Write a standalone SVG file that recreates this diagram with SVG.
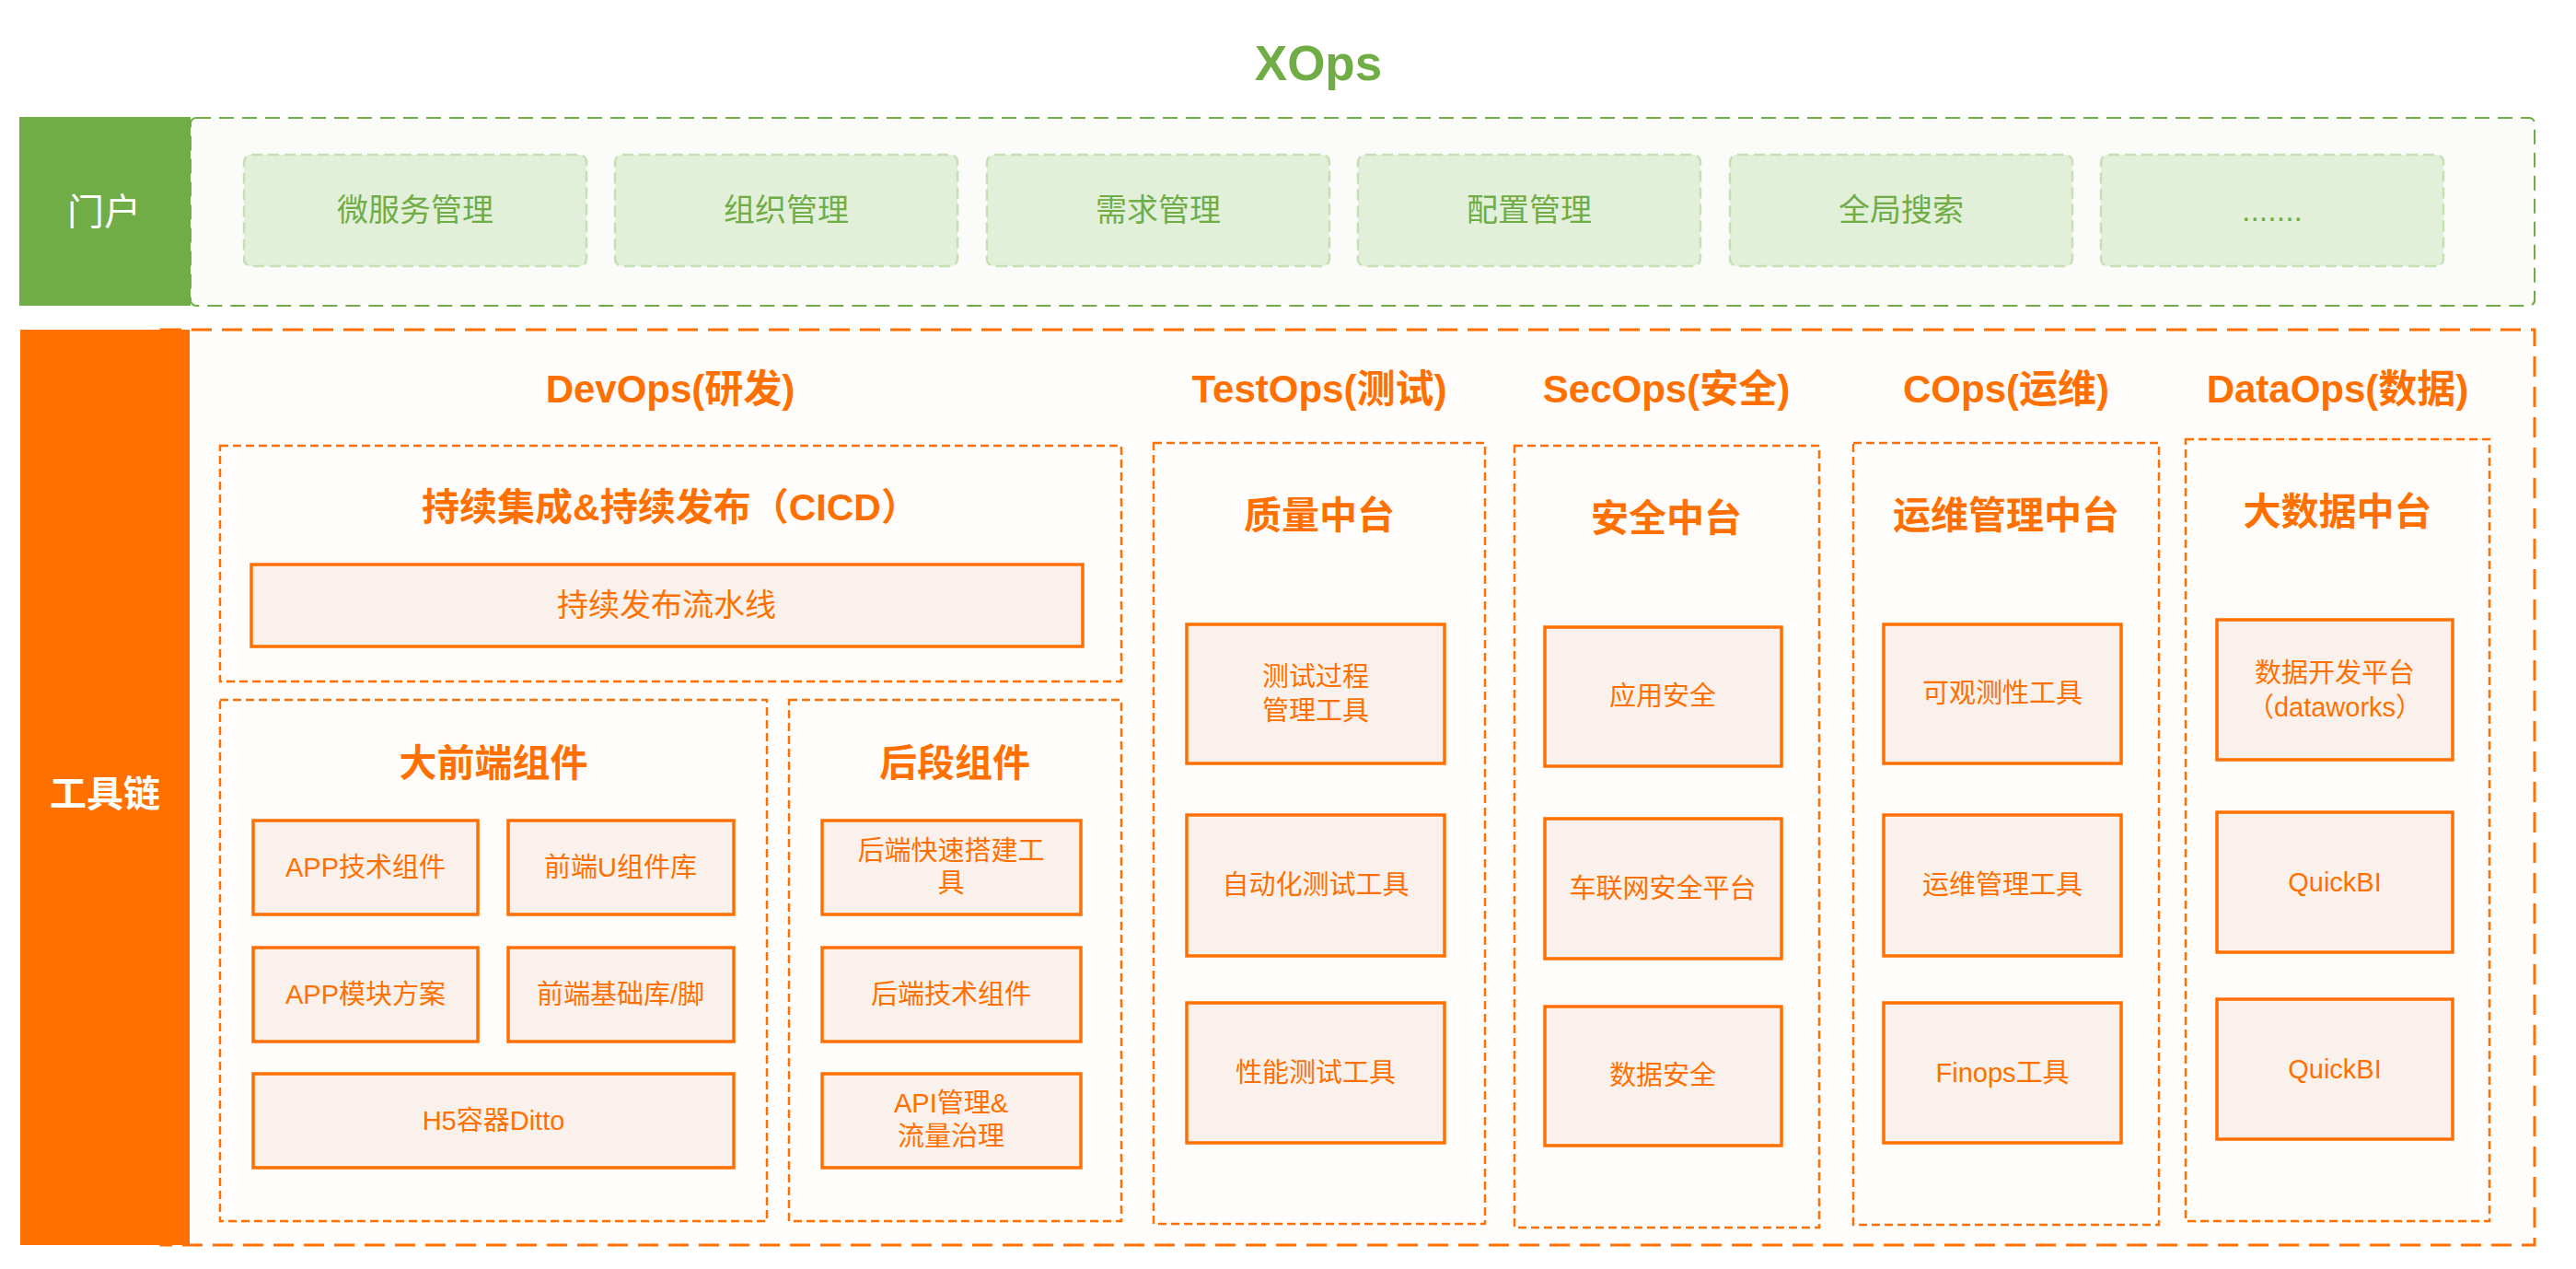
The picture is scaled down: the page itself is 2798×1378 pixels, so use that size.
<svg xmlns="http://www.w3.org/2000/svg" width="2798" height="1378" viewBox="0 0 2798 1378">
<style>
text{font-family:"Liberation Sans","Noto Sans CJK SC",sans-serif;text-anchor:middle;dominant-baseline:central}
.gtxt{fill:#70AD47;font-size:34px}
.wtxt{fill:#FFFFFF;font-size:40px}
.sec{fill:#FF7000;font-size:42px;font-weight:bold;dominant-baseline:alphabetic}
.sub{fill:#FF7000;font-size:41px;font-weight:bold}
.itxt{fill:#FF7000;font-size:29px}
.gbox{fill:#E2EFD9;stroke:#C5E0B3;stroke-width:2.5;stroke-dasharray:12 6}
.obox{fill:#FFFDFC;stroke:#FF7000;stroke-width:2.5;stroke-dasharray:9 5}
.sbox{fill:#FBF1EC;stroke:#FF7000;stroke-width:3.5}
</style>
<rect width="2798" height="1378" fill="#FFFFFF"/>
<text x="1432" y="68" style="fill:#70AD47;font-size:53px;font-weight:bold">XOps</text>

<g id="portal">
<rect x="207" y="128" width="2546" height="204" rx="6" fill="#FBFBF9" stroke="#70AD47" stroke-width="2" stroke-dasharray="16 9"/>
<rect x="21" y="127" width="186" height="205" fill="#70AD47"/>
<text x="113" y="230" class="wtxt">门户</text>
</g>
<g id="p1"><rect x="265" y="168" width="372" height="121" rx="8" class="gbox"/><text x="451" y="228" class="gtxt">微服务管理</text></g>
<g id="p2"><rect x="668" y="168" width="372" height="121" rx="8" class="gbox"/><text x="854" y="228" class="gtxt">组织管理</text></g>
<g id="p3"><rect x="1072" y="168" width="372" height="121" rx="8" class="gbox"/><text x="1258" y="228" class="gtxt">需求管理</text></g>
<g id="p4"><rect x="1475" y="168" width="372" height="121" rx="8" class="gbox"/><text x="1661" y="228" class="gtxt">配置管理</text></g>
<g id="p5"><rect x="1879" y="168" width="372" height="121" rx="8" class="gbox"/><text x="2065" y="228" class="gtxt">全局搜索</text></g>
<g id="p6"><rect x="2282" y="168" width="372" height="121" rx="8" class="gbox"/><text x="2468" y="228" class="gtxt">.......</text></g>

<g id="toolchain">
<rect x="175" y="358" width="2578" height="994" fill="#FFFDFC" stroke="#FF7000" stroke-width="3" stroke-dasharray="22 11"/>
<rect x="22" y="358" width="184" height="994" fill="#FF7000"/>
<text x="114" y="862" class="wtxt" style="font-weight:bold">工具链</text>
</g>

<g id="titles">
<text x="728" y="437" class="sec">DevOps(研发)</text>
<text x="1433" y="437" class="sec">TestOps(测试)</text>
<text x="1810" y="437" class="sec">SecOps(安全)</text>
<text x="2179" y="437" class="sec">COps(运维)</text>
<text x="2539" y="437" class="sec">DataOps(数据)</text>
</g>

<g id="cicd"><rect x="239" y="484" width="979" height="256" class="obox"/><text x="728" y="551" class="sub">持续集成&amp;持续发布（CICD）</text></g>
<g id="pipeline"><rect x="273" y="613" width="903" height="89" class="sbox"/><text x="724" y="657" class="itxt" style="font-size:34px">持续发布流水线</text></g>

<g id="frontend"><rect x="239" y="760" width="594" height="566" class="obox"/><text x="536" y="829" class="sub">大前端组件</text></g>
<g id="f1"><rect x="275" y="891" width="244" height="102" class="sbox"/><text x="397" y="942" class="itxt">APP技术组件</text></g>
<g id="f2"><rect x="552" y="891" width="245" height="102" class="sbox"/><text x="674" y="942" class="itxt">前端U组件库</text></g>
<g id="f3"><rect x="275" y="1029" width="244" height="102" class="sbox"/><text x="397" y="1080" class="itxt">APP模块方案</text></g>
<g id="f4"><rect x="552" y="1029" width="245" height="102" class="sbox"/><text x="674" y="1080" class="itxt">前端基础库/脚</text></g>
<g id="f5"><rect x="275" y="1166" width="522" height="102" class="sbox"/><text x="536" y="1217" class="itxt">H5容器Ditto</text></g>

<g id="backend"><rect x="857" y="760" width="361" height="566" class="obox"/><text x="1037" y="829" class="sub">后段组件</text></g>
<g id="b1"><rect x="893" y="891" width="281" height="102" class="sbox"/><text x="1033" y="924" class="itxt">后端快速搭建工</text><text x="1033" y="959" class="itxt">具</text></g>
<g id="b2"><rect x="893" y="1029" width="281" height="102" class="sbox"/><text x="1033" y="1080" class="itxt">后端技术组件</text></g>
<g id="b3"><rect x="893" y="1166" width="281" height="102" class="sbox"/><text x="1033" y="1198" class="itxt">API管理&amp;</text><text x="1033" y="1234" class="itxt">流量治理</text></g>

<g id="quality"><rect x="1253" y="481" width="360" height="848" class="obox"/><text x="1433" y="560" class="sub">质量中台</text></g>
<g id="q1"><rect x="1289" y="678" width="280" height="151" class="sbox"/><text x="1429" y="735" class="itxt">测试过程</text><text x="1429" y="772" class="itxt">管理工具</text></g>
<g id="q2"><rect x="1289" y="885" width="280" height="153" class="sbox"/><text x="1429" y="961" class="itxt">自动化测试工具</text></g>
<g id="q3"><rect x="1289" y="1089" width="280" height="152" class="sbox"/><text x="1429" y="1165" class="itxt">性能测试工具</text></g>

<g id="security"><rect x="1645" y="484" width="331" height="849" class="obox"/><text x="1810" y="563" class="sub">安全中台</text></g>
<g id="s1"><rect x="1678" y="681" width="257" height="151" class="sbox"/><text x="1806" y="756" class="itxt">应用安全</text></g>
<g id="s2"><rect x="1678" y="889" width="257" height="152" class="sbox"/><text x="1806" y="965" class="itxt">车联网安全平台</text></g>
<g id="s3"><rect x="1678" y="1093" width="257" height="151" class="sbox"/><text x="1806" y="1168" class="itxt">数据安全</text></g>

<g id="ops"><rect x="2013" y="481" width="332" height="849" class="obox"/><text x="2179" y="560" class="sub">运维管理中台</text></g>
<g id="o1"><rect x="2046" y="678" width="258" height="151" class="sbox"/><text x="2175" y="753" class="itxt">可观测性工具</text></g>
<g id="o2"><rect x="2046" y="885" width="258" height="153" class="sbox"/><text x="2175" y="961" class="itxt">运维管理工具</text></g>
<g id="o3"><rect x="2046" y="1089" width="258" height="152" class="sbox"/><text x="2175" y="1165" class="itxt">Finops工具</text></g>

<g id="bigdata"><rect x="2374" y="477" width="330" height="849" class="obox"/><text x="2539" y="556" class="sub">大数据中台</text></g>
<g id="d1"><rect x="2408" y="673" width="256" height="152" class="sbox"/><text x="2536" y="731" class="itxt">数据开发平台</text><text x="2536" y="768" class="itxt">（dataworks）</text></g>
<g id="d2"><rect x="2408" y="882" width="256" height="152" class="sbox"/><text x="2536" y="958" class="itxt">QuickBI</text></g>
<g id="d3"><rect x="2408" y="1085" width="256" height="152" class="sbox"/><text x="2536" y="1161" class="itxt">QuickBI</text></g>

<g id="connectors"></g>
</svg>
